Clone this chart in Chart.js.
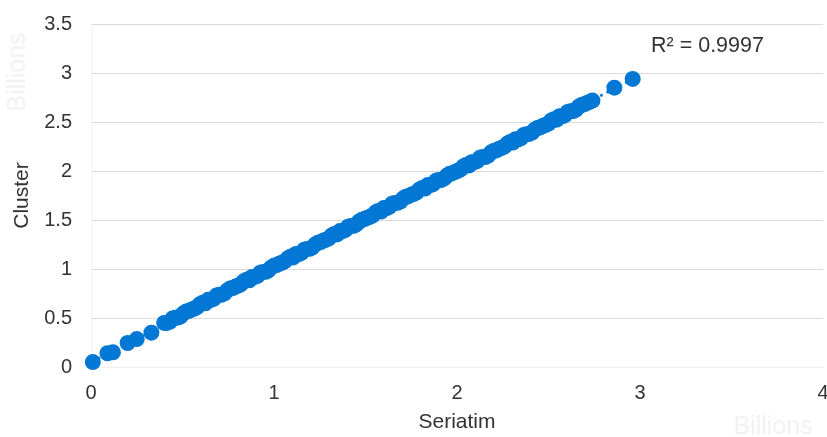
<!DOCTYPE html>
<html>
<head>
<meta charset="utf-8">
<title>Seriatim vs Cluster</title>
<script src="https://cdn.jsdelivr.net/npm/chart.js"></script>
<style>
html, body { margin: 0; padding: 0; background: #fff; }
#wrap { width: 827px; height: 437px; }
</style>
</head>
<body>
<div id="wrap"><canvas id="chart" width="827" height="437"></canvas></div>
<script>

// -------- DATA (billions) --------
const seriatim = [
    // lower tail
    0.01, 0.09, 0.12, 0.20, 0.25, 0.33,
    // dense band
    0.40, 0.43, 0.46, 0.49, 0.52, 0.55, 0.58, 0.61, 0.64, 0.67,
    0.70, 0.73, 0.76, 0.79, 0.82, 0.85, 0.88, 0.91, 0.94, 0.97,
    1.00, 1.03, 1.06, 1.09, 1.12, 1.15, 1.18, 1.21, 1.24, 1.27,
    1.30, 1.33, 1.36, 1.39, 1.42, 1.45, 1.48, 1.51, 1.54, 1.57,
    1.60, 1.63, 1.66, 1.69, 1.72, 1.75, 1.78, 1.81, 1.84, 1.87,
    1.90, 1.93, 1.96, 1.99, 2.02, 2.05, 2.08, 2.11, 2.14, 2.17,
    2.20, 2.23, 2.26, 2.29, 2.32, 2.35, 2.38, 2.41, 2.44, 2.47,
    2.50, 2.53, 2.56, 2.59, 2.62, 2.65, 2.68, 2.71, 2.74,
    0.415, 0.445, 0.475, 0.505, 0.535, 0.565, 0.595, 0.625, 0.655, 0.685,
    0.715, 0.745, 0.775, 0.805, 0.835, 0.865, 0.895, 0.925, 0.955, 0.985,
    1.015, 1.045, 1.075, 1.105, 1.135, 1.165, 1.195, 1.225, 1.255, 1.285,
    1.315, 1.345, 1.375, 1.405, 1.435, 1.465, 1.495, 1.525, 1.555, 1.585,
    1.615, 1.645, 1.675, 1.705, 1.735, 1.765, 1.795, 1.825, 1.855, 1.885,
    1.915, 1.945, 1.975, 2.005, 2.035, 2.065, 2.095, 2.125, 2.155, 2.185,
    2.215, 2.245, 2.275, 2.305, 2.335, 2.365, 2.395, 2.425, 2.455, 2.485,
    2.515, 2.545, 2.575, 2.605, 2.635, 2.665, 2.695, 2.725,
    // upper tail
    2.86, 2.96
];

const cluster = [
    0.05, 0.14, 0.15, 0.245, 0.285, 0.35,
    0.450, 0.462, 0.502, 0.518, 0.566, 0.587, 0.611, 0.655, 0.685, 0.696,
    0.736, 0.752, 0.800, 0.821, 0.845, 0.890, 0.919, 0.930, 0.970, 0.987,
    1.034, 1.055, 1.080, 1.124, 1.153, 1.164, 1.205, 1.221, 1.268, 1.290,
    1.314, 1.358, 1.387, 1.399, 1.439, 1.455, 1.502, 1.524, 1.548, 1.592,
    1.622, 1.633, 1.673, 1.689, 1.737, 1.758, 1.782, 1.827, 1.856, 1.867,
    1.907, 1.924, 1.971, 1.992, 2.017, 2.061, 2.090, 2.101, 2.142, 2.158,
    2.205, 2.227, 2.251, 2.295, 2.324, 2.336, 2.376, 2.392, 2.439, 2.461,
    2.485, 2.529, 2.559, 2.570, 2.610, 2.626, 2.674, 2.695, 2.719,
    0.450, 0.494, 0.504, 0.548, 0.572, 0.596, 0.641, 0.650, 0.684, 0.729,
    0.738, 0.782, 0.806, 0.831, 0.875, 0.884, 0.919, 0.963, 0.972, 1.016,
    1.041, 1.065, 1.109, 1.118, 1.153, 1.197, 1.206, 1.251, 1.275, 1.299,
    1.343, 1.353, 1.387, 1.431, 1.441, 1.485, 1.509, 1.533, 1.578, 1.587,
    1.621, 1.666, 1.675, 1.719, 1.743, 1.768, 1.812, 1.821, 1.856, 1.900,
    1.909, 1.953, 1.978, 2.002, 2.046, 2.055, 2.090, 2.134, 2.143, 2.188,
    2.212, 2.236, 2.280, 2.290, 2.324, 2.368, 2.378, 2.422, 2.446, 2.470,
    2.515, 2.524, 2.558, 2.603, 2.612, 2.656, 2.680, 2.705,
    2.85, 2.94
];

const xTicks = [0, 1, 2, 3, 4];
const yTicks = [0, 0.5, 1, 1.5, 2, 2.5, 3, 3.5];

const R2_TEXT = "R\u00b2 = 0.9997";
const BLUE = '#0377d4';
const FONT = "'Liberation Sans', Arial, sans-serif";

// -------- LINEAR TRENDLINE (least squares on the points) --------
const n = seriatim.length;
const mx = seriatim.reduce((a, b) => a + b, 0) / n;
const my = cluster.reduce((a, b) => a + b, 0) / n;
let sxy = 0, sxx = 0;
for (let i = 0; i < n; i++) {
    sxy += (seriatim[i] - mx) * (cluster[i] - my);
    sxx += (seriatim[i] - mx) * (seriatim[i] - mx);
}
const slope = sxy / sxx;
const intercept = my - slope * mx;
const xMin = Math.min(...seriatim);
const xMax = Math.max(...seriatim);
const trend = [
    { x: xMin, y: intercept + slope * xMin },
    { x: xMax, y: intercept + slope * xMax }
];

const points = seriatim.map((x, i) => ({ x: x, y: cluster[i] }));

// faint "Billions" unit labels + R² label
const labelsPlugin = {
    id: 'extraLabels',
    afterDraw(chart) {
        const ctx = chart.ctx;
        const xs = chart.scales.x, ys = chart.scales.y;
        ctx.save();
        ctx.fillStyle = '#f2f2f2';
        ctx.font = '25px ' + FONT;
        ctx.textAlign = 'center';
        ctx.textBaseline = 'middle';
        ctx.fillText('Billions', 773, 427);
        ctx.translate(18, 72);
        ctx.rotate(-Math.PI / 2);
        ctx.fillText('Billions', 0, 0);
        ctx.restore();

        ctx.save();
        ctx.fillStyle = '#333';
        ctx.font = '21.5px ' + FONT;
        ctx.textAlign = 'left';
        ctx.textBaseline = 'middle';
        ctx.fillText(R2_TEXT, xs.getPixelForValue(3.06), ys.getPixelForValue(3.275));
        ctx.restore();
    }
};

new Chart(document.getElementById('chart'), {
    type: 'scatter',
    data: {
        datasets: [
            {
                label: 'Trend',
                type: 'line',
                data: trend,
                borderColor: BLUE,
                borderWidth: 3,
                borderDash: [0, 7],
                borderCapStyle: 'round',
                pointRadius: 0,
                fill: false,
                clip: false,
                order: 2
            },
            {
                label: 'Cluster',
                data: points,
                backgroundColor: BLUE,
                borderWidth: 0,
                pointRadius: 8,
                pointHoverRadius: 8,
                clip: false,
                order: 1
            }
        ]
    },
    options: {
        responsive: false,
        animation: false,
        // no auto padding for point radius, so the plot reaches x = 4 at the far right
        layout: { autoPadding: false, padding: { top: 24, right: 0, bottom: 0, left: 0 } },
        plugins: {
            legend: { display: false },
            tooltip: { enabled: false }
        },
        scales: {
            x: {
                type: 'linear',
                min: 0,
                max: 4,
                afterFit: s => {
                    s.height = 70;
                    s.paddingLeft = 0;
                    s.paddingRight = 4;
                },
                afterBuildTicks: s => { s.ticks = xTicks.map(v => ({ value: v })); },
                grid: { display: false, drawTicks: false },
                border: { display: true, color: '#eeeeee' },
                ticks: {
                    color: '#333',
                    padding: 14,
                    font: { size: 20, family: FONT },
                    callback: v => String(v)
                },
                title: {
                    display: true,
                    text: 'Seriatim',
                    color: '#333',
                    font: { size: 21, family: FONT },
                    padding: { top: 0, bottom: 2 }
                }
            },
            y: {
                type: 'linear',
                min: 0,
                max: 3.5,
                afterFit: s => {
                    s.width = 91;
                    s.paddingTop = 0;
                    s.paddingBottom = 0;
                },
                afterBuildTicks: s => { s.ticks = yTicks.map(v => ({ value: v })); },
                grid: { color: '#d9d9d9', drawTicks: false },
                border: { display: true, color: '#f2f2f2' },
                ticks: {
                    color: '#333',
                    padding: 19,
                    font: { size: 20, family: FONT },
                    callback: v => String(v)
                },
                title: {
                    display: true,
                    text: 'Cluster',
                    color: '#333',
                    font: { size: 21, family: FONT },
                    padding: { top: 10, bottom: 0 }
                }
            }
        }
    },
    plugins: [labelsPlugin]
});

</script>
</body>
</html>
